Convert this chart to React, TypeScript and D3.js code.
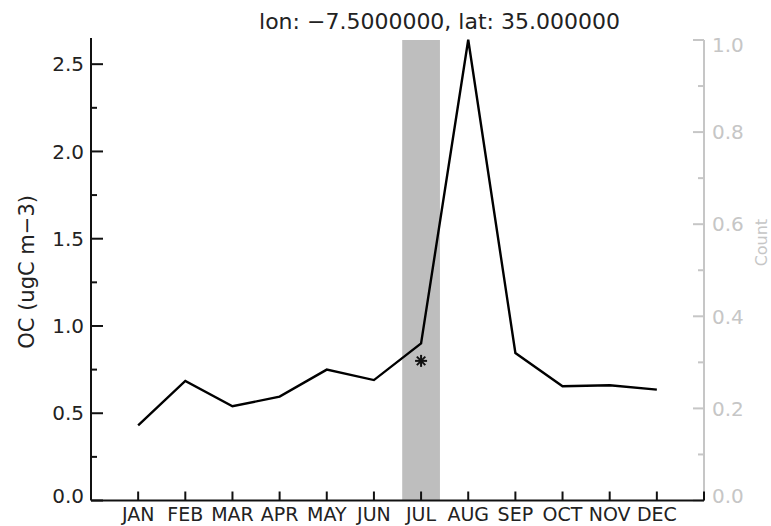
import React from "react";
import * as d3 from "d3";

const months = ["JAN", "FEB", "MAR", "APR", "MAY", "JUN", "JUL", "AUG", "SEP", "OCT", "NOV", "DEC"];
const ocValues = [0.43, 0.685, 0.54, 0.595, 0.75, 0.69, 0.9, 2.64, 0.845, 0.655, 0.66, 0.635];
const obsMonth = "JUL";
const obsValue = 0.8;
const shadedMonths = ["JUL"];
const leftMajor = [0, 0.5, 1.0, 1.5, 2.0, 2.5];
const leftMinor = [0.25, 0.75, 1.25, 1.75, 2.25];
const rightMajor = [0, 0.2, 0.4, 0.6, 0.8, 1.0];
const rightMinor = [0.1, 0.3, 0.5, 0.7, 0.9];
const title = "lon: \u22127.5000000, lat: 35.000000";
const leftLabel = "OC (ugC m\u22123)";
const rightLabel = "Count";

const W = 771;
const H = 526;
const FONT = "DejaVu Sans, sans-serif";
const RGRAY = "#c6c6c6";

export default function App() {
  const x = d3.scaleLinear().domain([0, 13]).range([91, 704]);
  const y = d3.scaleLinear().domain([0, 2.65]).range([500.5, 38]);
  const yR = d3.scaleLinear().domain([0, 1]).range([500.5, 40]);
  const mIdx = (m: string) => months.indexOf(m) + 1;

  const line = d3
    .line<number>()
    .x((_, i) => x(i + 1))
    .y((d) => y(d));

  const x0 = x(0);
  const x1 = x(13);
  const yb = y(0);
  const sx = x(mIdx(obsMonth));
  const sy = y(obsValue);
  const starArms = [0, 45, 90, 135];

  return (
    <svg width={W} height={H} style={{ position: "absolute", left: 0, top: 0, background: "#fff" }} fontFamily={FONT}>
      {/* shaded observation months */}
      {shadedMonths.map((m) => (
        <rect key={m} x={x(mIdx(m) - 0.4)} y={yR(1)} width={x(mIdx(m) + 0.4) - x(mIdx(m) - 0.4)} height={yb - yR(1)} fill="#bebebe" />
      ))}

      {/* title */}
      <text x={(x0 + x1) / 2 + 42} y={29} textAnchor="middle" fontSize={22} fill="#222">
        {title}
      </text>

      {/* right axis */}
      <line x1={x1} x2={x1} y1={yR(1)} y2={yb} stroke={RGRAY} strokeWidth={2} />
      {rightMajor.map((t) => (
        <line key={"rM" + t} x1={x1 - 11} x2={x1} y1={yR(t)} y2={yR(t)} stroke={RGRAY} strokeWidth={2} />
      ))}
      {rightMinor.map((t) => (
        <line key={"rm" + t} x1={x1 - 6} x2={x1} y1={yR(t)} y2={yR(t)} stroke={RGRAY} strokeWidth={2} />
      ))}
      {rightMajor.map((t, i) => (
        <text
          key={"rl" + t}
          x={x1 + 8}
          y={yR(t) + (i === 0 ? -5 : i === rightMajor.length - 1 ? 5 : 0)}
          dy="0.36em"
          fontSize={20}
          fill={RGRAY}
        >
          {t.toFixed(1)}
        </text>
      ))}
      <text transform={`translate(767,${yR(0.56)}) rotate(-90)`} textAnchor="middle" fontSize={16} fill={RGRAY}>
        {rightLabel}
      </text>

      {/* left axis */}
      <line x1={x0} x2={x0} y1={y(2.65)} y2={yb} stroke="#111" strokeWidth={2} />
      {leftMajor.map((t) => (
        <line key={"lM" + t} x1={x0} x2={x0 + 12} y1={y(t)} y2={y(t)} stroke="#111" strokeWidth={2} />
      ))}
      {leftMinor.map((t) => (
        <line key={"lm" + t} x1={x0} x2={x0 + 6} y1={y(t)} y2={y(t)} stroke="#111" strokeWidth={2} />
      ))}
      {leftMajor.map((t, i) => (
        <text key={"ll" + t} x={x0 - 7} y={y(t) + (i === 0 ? -5 : 0)} dy="0.36em" textAnchor="end" fontSize={20} fill="#222">
          {t.toFixed(1)}
        </text>
      ))}
      <text transform={`translate(34,${y(1.31)}) rotate(-90)`} textAnchor="middle" fontSize={21} fill="#222">
        {leftLabel}
      </text>

      {/* bottom axis */}
      <line x1={x0} x2={x1} y1={yb} y2={yb} stroke="#111" strokeWidth={2} />
      {d3.range(1, 14).map((m) => (
        <line key={"bt" + m} x1={x(m)} x2={x(m)} y1={yb} y2={yb - 9} stroke="#111" strokeWidth={2} />
      ))}
      {months.map((m, i) => (
        <text key={m} x={x(i + 1)} y={520.5} textAnchor="middle" fontSize={19} fill="#222">
          {m}
        </text>
      ))}

      {/* data line */}
      <path d={line(ocValues) || ""} fill="none" stroke="#000" strokeWidth={2.4} />

      {/* observation marker (8-armed asterisk) */}
      <g transform={`translate(${sx},${sy})`}>
        {starArms.map((a) => (
          <line key={a} x1={-6} x2={6} y1={0} y2={0} transform={`rotate(${a})`} stroke="#111" strokeWidth={2} />
        ))}
      </g>
    </svg>
  );
}
